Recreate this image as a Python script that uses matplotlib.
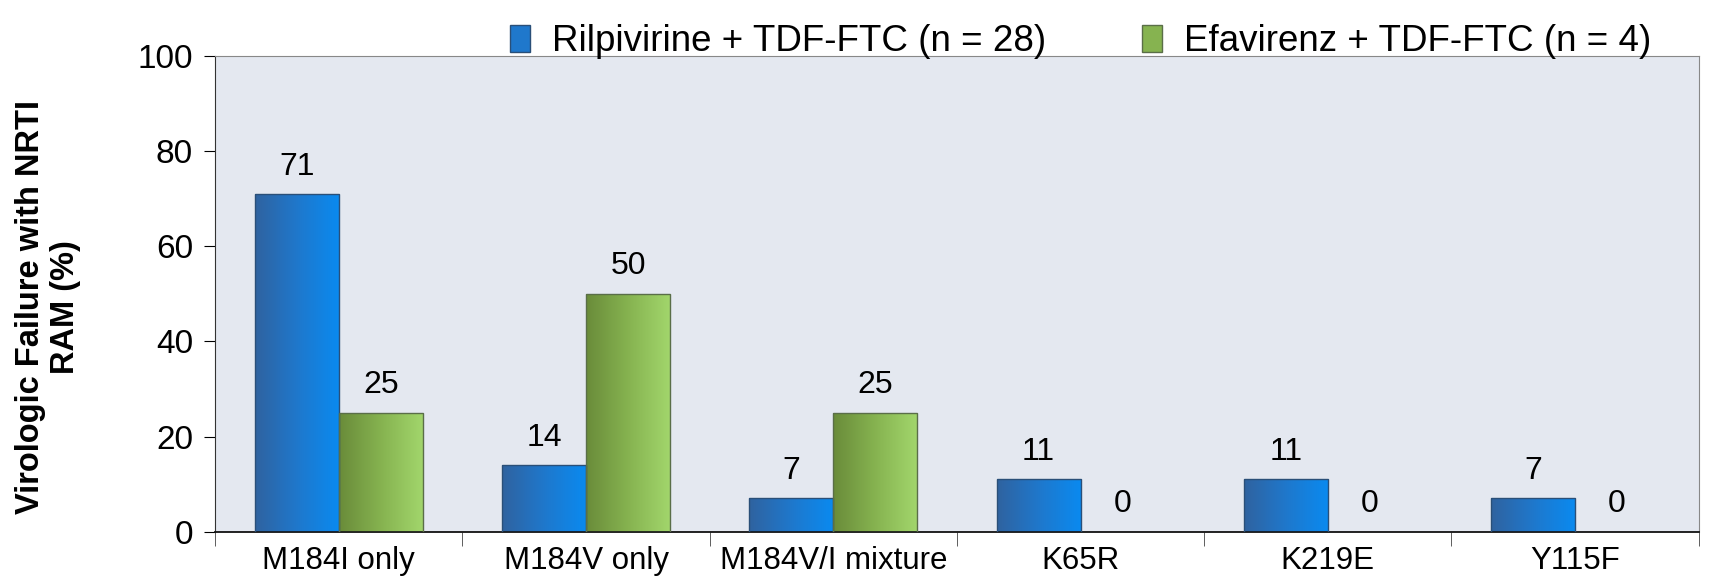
import numpy as np
import matplotlib
matplotlib.use("Agg")
import matplotlib.pyplot as plt
from matplotlib.colors import LinearSegmentedColormap
from matplotlib.patches import Patch

plt.rcParams['font.family'] = ['Liberation Sans', 'DejaVu Sans']

categories = ['M184I only', 'M184V only', 'M184V/I mixture', 'K65R', 'K219E', 'Y115F']
rilpivirine = [71, 14, 7, 11, 11, 7]
efavirenz = [25, 50, 25, 0, 0, 0]
series_names = ['Rilpivirine + TDF-FTC (n = 28)', 'Efavirenz + TDF-FTC (n = 4)']

blue_cmap = LinearSegmentedColormap.from_list('b', ['#2f63a0', '#1f78cc', '#0a8af0'])
green_cmap = LinearSegmentedColormap.from_list('g', ['#6a8c3a', '#86b350', '#a2d66c'])

fig = plt.figure(figsize=(17.15, 5.78), dpi=100)
ax = fig.add_axes([0.1255, 0.080, 0.865, 0.823])
ax.set_facecolor('#e4e8f0')

x = np.arange(len(categories))
w = 0.34
grad = np.linspace(0, 1, 64).reshape(1, -1)

def gradient_bars(xs, vals, cmap, edge):
    bars = ax.bar(xs, vals, w, color='none', edgecolor=edge, linewidth=1.0, zorder=3)
    for b in bars:
        if b.get_height() <= 0:
            b.set_visible(False)
            continue
        x0, y0 = b.get_x(), b.get_y()
        ax.imshow(grad, extent=[x0, x0 + b.get_width(), y0, y0 + b.get_height()],
                  aspect='auto', cmap=cmap, zorder=2, interpolation='bicubic')
    return bars

gradient_bars(x - w / 2, rilpivirine, blue_cmap, '#2a4f78')
gradient_bars(x + w / 2, efavirenz, green_cmap, '#5a6e48')

for xi, v in zip(x - w / 2, rilpivirine):
    ax.annotate(str(v), (xi, v), xytext=(0, 9), textcoords='offset points',
                ha='center', va='bottom', fontsize=23)
for xi, v in zip(x + w / 2, efavirenz):
    ax.annotate(str(v), (xi, v), xytext=(0, 9), textcoords='offset points',
                ha='center', va='bottom', fontsize=23)

ax.set_xlim(-0.5, len(categories) - 0.5)
ax.set_ylim(0, 100)
ax.set_yticks([0, 20, 40, 60, 80, 100])
ax.tick_params(axis='y', labelsize=24, length=8, direction='out', pad=8)
ax.set_xticks(x)
ax.set_xticklabels(categories, fontsize=22.5)
ax.tick_params(axis='x', length=0, pad=10)
ax.set_xticks(np.arange(-0.5, len(categories) + 0.5, 1), minor=True)
ax.tick_params(axis='x', which='minor', length=10, direction='out', color='#444444')

ax.spines['left'].set_color('#333333')
ax.spines['bottom'].set_color('#111111')
ax.spines['bottom'].set_linewidth(1.3)
ax.spines['top'].set_color('#888888')
ax.spines['right'].set_color('#888888')

fig.text(0.028, 0.468, 'Virologic Failure with NRTI\nRAM (%)', fontsize=23.5,
         fontweight='bold', rotation=90, ha='center', va='center',
         multialignment='center')

handles = [Patch(facecolor='#1f78cc', edgecolor='#2a4f78'),
           Patch(facecolor='#86b350', edgecolor='#5a6e48')]
fig.legend(handles, series_names, loc='upper center', bbox_to_anchor=(0.63, 1.015),
           ncol=2, frameon=False, fontsize=26.5, handlelength=0.55, handleheight=0.75,
           columnspacing=2.6, handletextpad=0.6)

fig.savefig('out.png', dpi=100)
